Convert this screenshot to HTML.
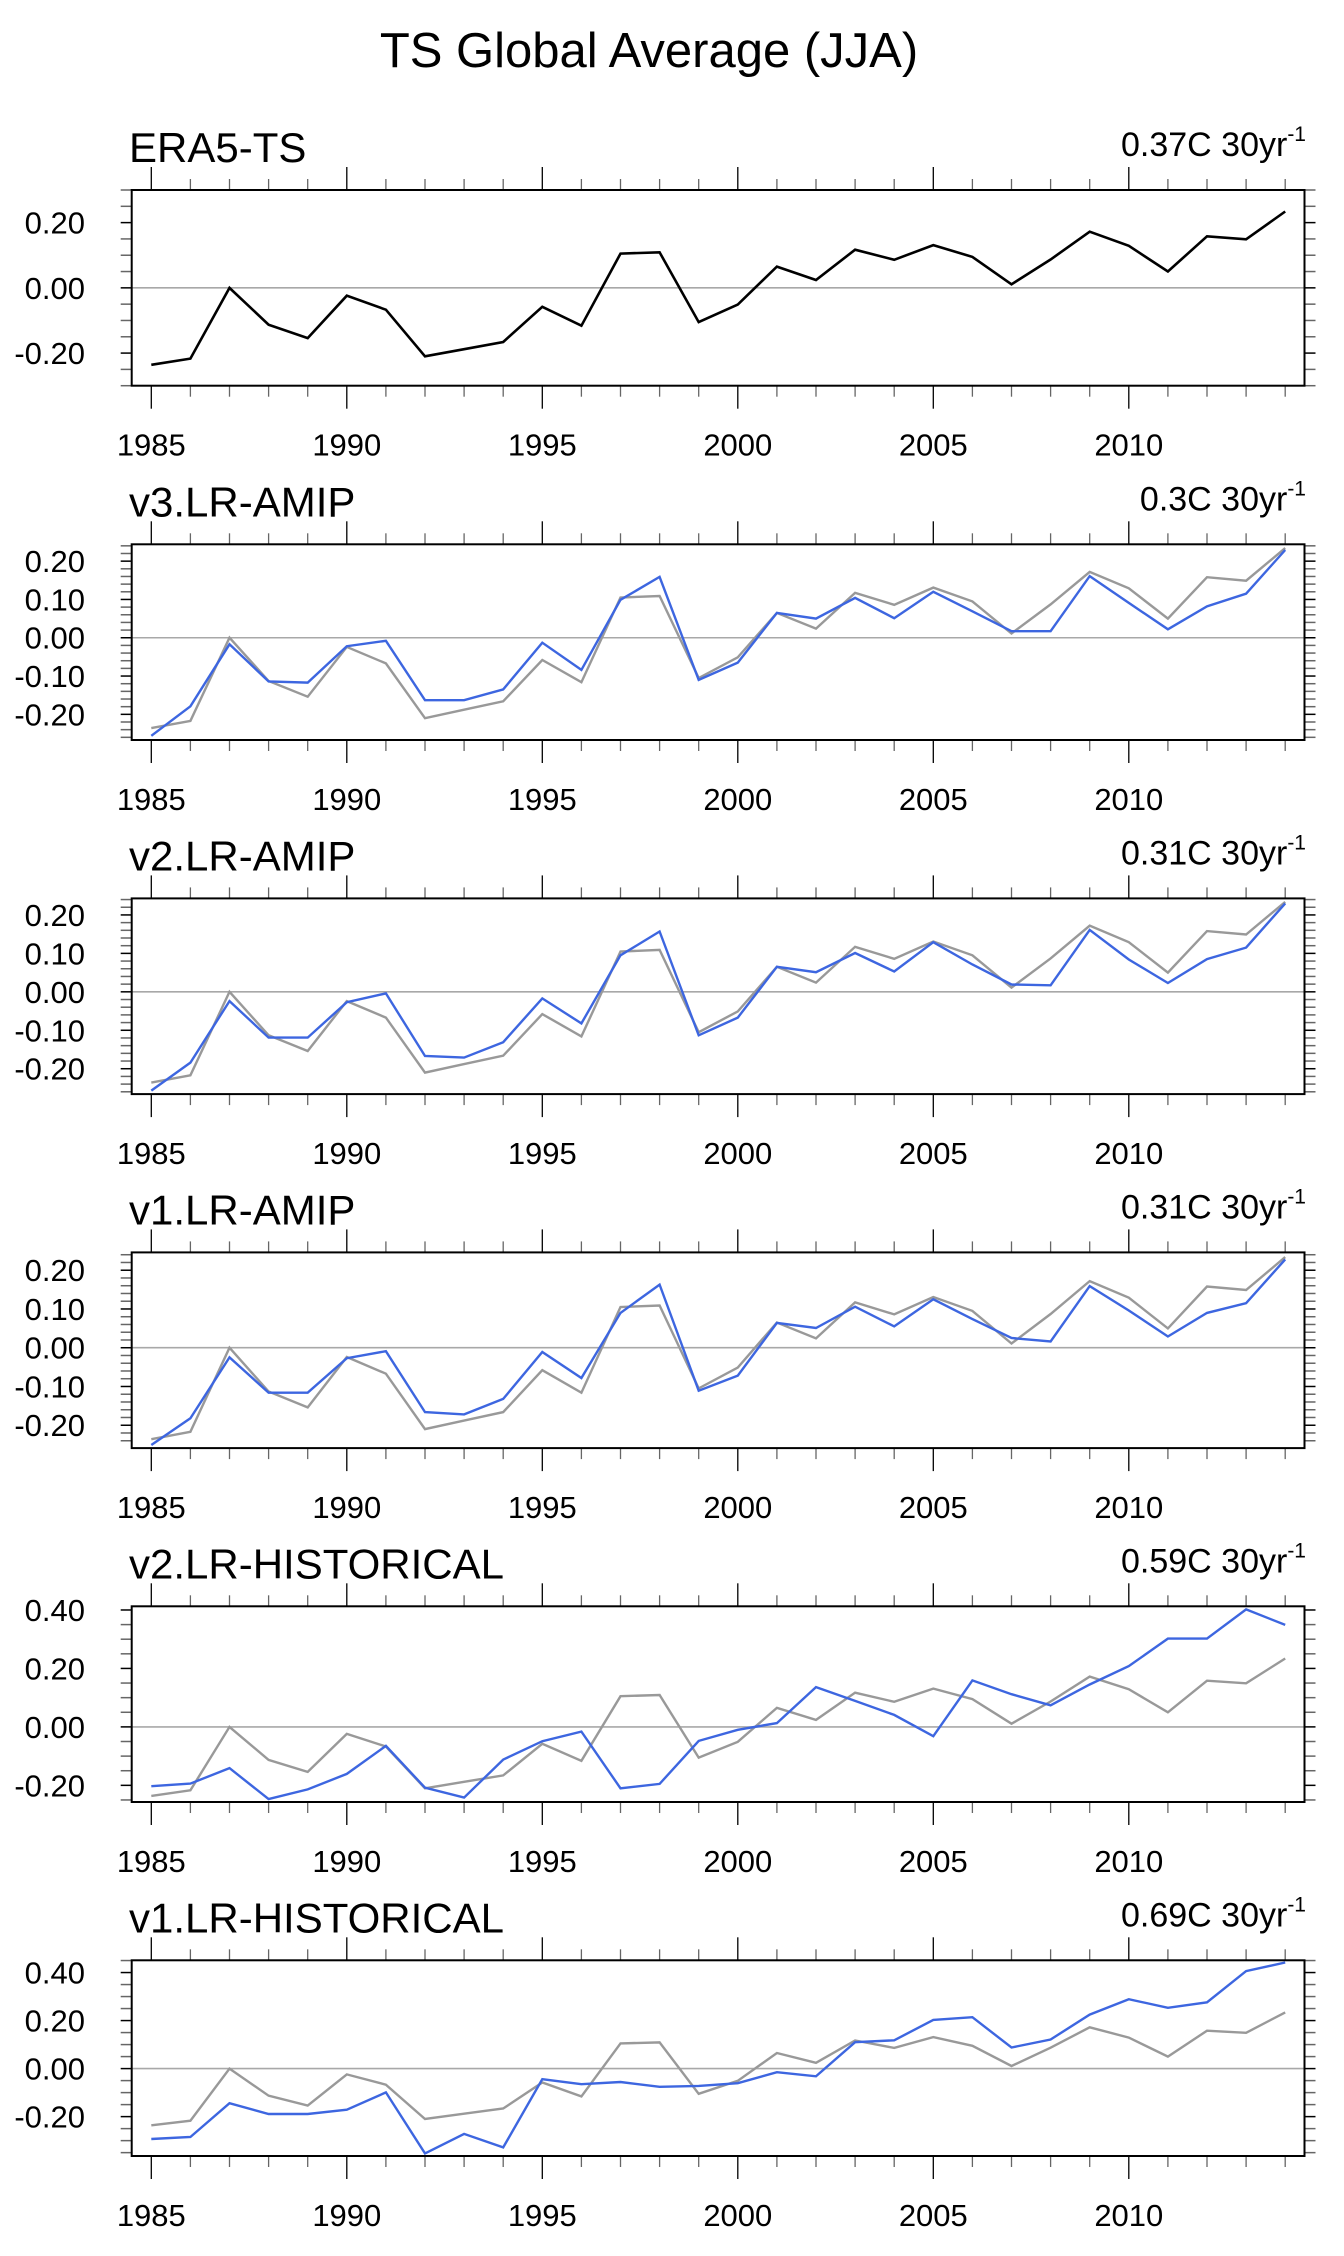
<!DOCTYPE html>
<html><head><meta charset="utf-8"><style>
html,body{margin:0;padding:0;background:#fff;}
svg{display:block;font-family:"Liberation Sans",sans-serif;}
</style></head><body>
<svg id="fig" width="1344" height="2256" viewBox="0 0 1344 2256" xmlns="http://www.w3.org/2000/svg">
<text x="649" y="67" font-size="49" text-anchor="middle">TS Global Average (JJA)</text>
</svg>
<script>
const years = [];
for (let y = 1985; y <= 2014; y++) years.push(y);
const era5 = [-0.236,-0.217,0.0,-0.113,-0.154,-0.024,-0.067,-0.210,-0.188,-0.166,-0.058,-0.116,0.105,0.109,-0.105,-0.051,0.065,0.024,0.117,0.086,0.131,0.095,0.011,0.087,0.172,0.129,0.050,0.158,0.149,0.234];
const v3amip = [-0.256,-0.179,-0.017,-0.114,-0.117,-0.022,-0.008,-0.163,-0.163,-0.135,-0.013,-0.084,0.099,0.159,-0.110,-0.065,0.065,0.050,0.104,0.051,0.120,0.069,0.017,0.017,0.161,0.091,0.022,0.082,0.115,0.229];
const v2amip = [-0.257,-0.184,-0.024,-0.119,-0.119,-0.027,-0.004,-0.167,-0.171,-0.131,-0.017,-0.082,0.095,0.157,-0.113,-0.067,0.065,0.051,0.101,0.053,0.129,0.071,0.019,0.017,0.161,0.084,0.023,0.085,0.115,0.230];
const v1amip = [-0.251,-0.182,-0.025,-0.116,-0.116,-0.027,-0.009,-0.166,-0.172,-0.132,-0.011,-0.078,0.090,0.163,-0.111,-0.072,0.064,0.051,0.106,0.055,0.125,0.074,0.025,0.016,0.159,0.096,0.029,0.090,0.115,0.228];
const v2hist = [-0.203,-0.194,-0.141,-0.247,-0.214,-0.161,-0.065,-0.208,-0.242,-0.112,-0.049,-0.016,-0.210,-0.195,-0.048,-0.010,0.013,0.136,0.089,0.041,-0.032,0.159,0.112,0.074,0.145,0.208,0.302,0.302,0.402,0.349];
const v1hist = [-0.293,-0.285,-0.144,-0.189,-0.189,-0.171,-0.099,-0.353,-0.272,-0.328,-0.044,-0.065,-0.056,-0.076,-0.072,-0.061,-0.015,-0.032,0.110,0.118,0.203,0.214,0.088,0.121,0.225,0.289,0.253,0.276,0.406,0.442];
const panelTitles = ["ERA5-TS","v3.LR-AMIP","v2.LR-AMIP","v1.LR-AMIP","v2.LR-HISTORICAL","v1.LR-HISTORICAL"];
const trendLabels = ["0.37C 30yr","0.3C 30yr","0.31C 30yr","0.31C 30yr","0.59C 30yr","0.69C 30yr"];
const xTickLabels = [1985,1990,1995,2000,2005,2010];

const NS = "http://www.w3.org/2000/svg";
const svg = document.getElementById('fig');
function mk(tag, attrs, parent){const e=document.createElementNS(NS,tag);for(const k in attrs)e.setAttribute(k,attrs[k]);(parent||svg).appendChild(e);return e;}

const L=131.7, R=1304.5, H=195.7;
const tops=[190,544.3,898.4,1252.4,1606.3,1960.3];
const ranges=[[-0.3,0.3],[-0.267,0.244],[-0.266,0.243],[-0.259,0.246],[-0.257,0.4126],[-0.364,0.451]];
const labelStep=[0.2,0.1,0.1,0.1,0.2,0.2];
const minorStep=[0.05,0.02,0.02,0.02,0.05,0.05];
const series=[null,v3amip,v2amip,v1amip,v2hist,v1hist];
const slug=["era5-ts","v3-lr-amip","v2-lr-amip","v1-lr-amip","v2-lr-historical","v1-lr-historical"];
function xs(yr){return 151.3+(yr-1985)*(1285.2-151.3)/29;}

for(let p=0;p<6;p++){
  const top=tops[p], bot=top+H, [ymin,ymax]=ranges[p];
  const ys=v=>top+(ymax-v)/(ymax-ymin)*H;
  const g=mk('g',{});
  
  
  const t=mk('text',{x:129,y:top-28,'font-size':42},g);
  t.textContent=panelTitles[p];
  
  
  const tr=mk('text',{x:1306,y:top-34,'font-size':34,'text-anchor':'end'},g);
  
  
  tr.appendChild(document.createTextNode(trendLabels[p]));
  const sup=mk('tspan',{'font-size':21,dy:-15},tr); sup.textContent='-1';
  const zl=mk('line',{x1:L,x2:R,y1:ys(0),y2:ys(0),stroke:'#a8a8a8','stroke-width':1.6},g);
  
  
  const n0=Math.ceil(ymin/minorStep[p]-1e-6), n1=Math.floor(ymax/minorStep[p]+1e-6);
  for(let i=n0;i<=n1;i++){
    const v=i*minorStep[p], y=ys(v);
    const major=Math.abs(v/labelStep[p]-Math.round(v/labelStep[p]))<1e-6;
    const c=major?'#000':'#666';
    mk('line',{x1:L-11,x2:L,y1:y,y2:y,stroke:c,'stroke-width':1.5},g);
    mk('line',{x1:R,x2:R+11,y1:y,y2:y,stroke:c,'stroke-width':1.5},g);
    if(major){
      const lt=mk('text',{x:85,y:y+11,'font-size':31,'text-anchor':'end'},g);
      lt.textContent=v.toFixed(2);
      
      
    }
  }
  years.forEach(yr=>{
    const x=xs(yr), major=yr%5===0, len=major?23:11, c=major?'#000':'#666';
    mk('line',{x1:x,x2:x,y1:top-len,y2:top,stroke:c,'stroke-width':1.3},g);
    mk('line',{x1:x,x2:x,y1:bot,y2:bot+len,stroke:c,'stroke-width':1.3},g);
  });
  xTickLabels.forEach(yr=>{
    const lt=mk('text',{x:xs(yr),y:bot+70,'font-size':31,'text-anchor':'middle'},g);
    lt.textContent=yr;
    
    
  });
  const pts=a=>a.map((v,i)=>xs(years[i]).toFixed(1)+','+ys(v).toFixed(1)).join(' ');
  const ref=mk('polyline',{points:pts(era5),fill:'none',stroke:p===0?'#000':'#999','stroke-width':p===0?2.6:2.4,'stroke-linejoin':'miter'},g);
  
  
  if(series[p]){
    const ml=mk('polyline',{points:pts(series[p]),fill:'none',stroke:'#3d66e0','stroke-width':2.4,'stroke-linejoin':'miter'},g);
    
    
  }
  const fr=mk('rect',{x:L,y:top,width:R-L,height:H,fill:'none',stroke:'#000','stroke-width':2},g);
  
  
}
</script>
</body></html>
